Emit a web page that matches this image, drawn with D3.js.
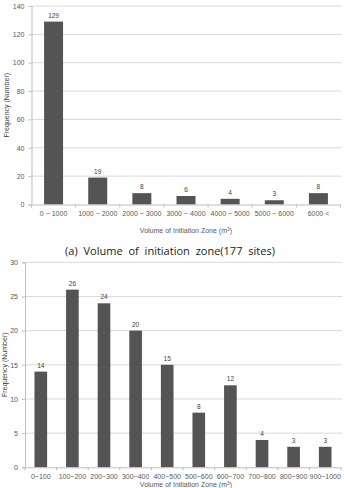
<!DOCTYPE html>
<html><head><meta charset="utf-8">
<script src="https://cdn.jsdelivr.net/npm/d3@7"></script>
<style>body{margin:0;background:#fff}svg{display:block}</style>
</head><body><svg id="c" width="344" height="488"></svg>
<script>
const catsA = ["0 ~ 1000","1000 ~ 2000","2000 ~ 3000","3000 ~ 4000","4000 ~ 5000","5000 ~ 6000","6000 <"];
const valsA = [129,19,8,6,4,3,8];
const ticksA = [0,20,40,60,80,100,120,140];
const catsB = ["0~100","100~200","200~300","300~400","400~500","500~600","600~700","700~800","800~900","900~1000"];
const valsB = [14,26,24,20,15,8,12,4,3,3];
const ticksB = [0,5,10,15,20,25,30];
const xTitle = "Volume of Initiation Zone (m";
const yTitle = "Frequency (Number)";
const caption = "(a) Volume of initiation zone(177 sites)";

const svg = d3.select("#c");
const font = "Arial, 'Liberation Sans', sans-serif";

function chart(cfg){
  const g = svg.append("g");
  const x = d3.scaleBand().domain(cfg.cats).range([cfg.x0,cfg.x1]).paddingInner(cfg.pad).paddingOuter(cfg.pad/2);
  const y = d3.scaleLinear().domain([0,cfg.max]).range([cfg.yb,cfg.yt]);
  // gridlines
  g.selectAll("line.grid").data(cfg.ticks.filter(t=>t>0)).join("line")
    .attr("x1",cfg.x0).attr("x2",cfg.x1+1).attr("y1",d=>y(d)).attr("y2",d=>y(d))
    .attr("stroke","#d9d9d9").attr("stroke-width",1);
  // y axis
  const ya = g.append("g").attr("transform",`translate(${cfg.x0},0)`)
    .call(d3.axisLeft(y).tickValues(cfg.ticks).tickSize(3).tickPadding(4));
  ya.select(".domain").attr("stroke","#bfbfbf");
  ya.selectAll(".tick line").attr("stroke","#bfbfbf");
  ya.selectAll("text").attr("font-family",font).attr("font-size",7).attr("fill","#595959");
  // bars
  g.selectAll("rect").data(cfg.vals).join("rect")
    .attr("x",(d,i)=>x(cfg.cats[i])).attr("width",x.bandwidth())
    .attr("y",d=>y(d)).attr("height",d=>y(0)-y(d)).attr("fill","#545454");
  // x axis
  const xa = g.append("g").attr("transform",`translate(0,${cfg.yb})`)
    .call(d3.axisBottom(x).tickSize(0).tickPadding(7));
  xa.select(".domain").attr("stroke","#bfbfbf");
  xa.selectAll("text").attr("font-family",font).attr("font-size",7).attr("fill","#595959");
  // boundary ticks
  const step = x.step();
  const bounds = d3.range(cfg.cats.length+1).map(i=>cfg.x0 + i*(cfg.x1-cfg.x0)/cfg.cats.length);
  g.selectAll("line.bt").data(bounds).join("line")
    .attr("x1",d=>d).attr("x2",d=>d).attr("y1",cfg.yb).attr("y2",cfg.yb+3).attr("stroke","#bfbfbf");
  // value labels
  g.selectAll("text.v").data(cfg.vals).join("text")
    .attr("x",(d,i)=>x(cfg.cats[i])+x.bandwidth()/2).attr("y",d=>y(d)-4)
    .attr("text-anchor","middle").attr("font-family",font).attr("font-size",6.5).attr("fill","#404040")
    .text(d=>d);
  // y title
  g.append("text").attr("transform",`translate(${cfg.ytx},${(cfg.yt+cfg.yb)/2}) rotate(-90)`)
    .attr("text-anchor","middle").attr("font-family",font).attr("font-size",7).attr("fill","#404040").text(yTitle);
  // x title
  const xt = g.append("text").attr("x",cfg.xtx).attr("y",cfg.xty).attr("text-anchor","middle")
    .attr("font-family",font).attr("font-size",7).attr("fill","#595959");
  xt.append("tspan").text(xTitle);
  xt.append("tspan").attr("font-size",5).attr("dy",-2.5).text("3");
  xt.append("tspan").attr("dy",2.5).text(")");
}

chart({cats:catsA, vals:valsA, ticks:ticksA, max:140, x0:31.5, x1:340.5, yt:6, yb:204.5, pad:0.57, ytx:9, xtx:186, xty:233});
chart({cats:catsB, vals:valsB, ticks:ticksB, max:30, x0:25, x1:341, yt:262.3, yb:467.3, pad:0.6, ytx:7, xtx:186, xty:487});

svg.append("text").attr("x",170).attr("y",255).attr("text-anchor","middle")
  .attr("font-family","'Open Sans', sans-serif").attr("font-size",11).attr("word-spacing",3).attr("fill","#222")
  .text(caption);
</script></body></html>
